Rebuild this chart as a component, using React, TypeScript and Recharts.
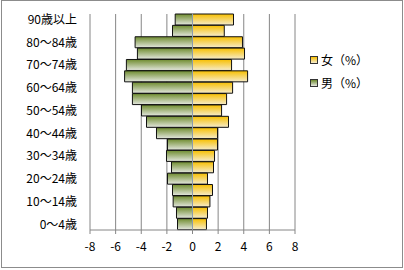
import React from 'react';
import { Bar, BarChart, CartesianGrid, ReferenceLine, XAxis, YAxis } from 'recharts';

const ages = [
  '90歳以上', '85～89歳', '80～84歳', '75～79歳', '70～74歳', '65～69歳', '60～64歳',
  '55～59歳', '50～54歳', '45～49歳', '40～44歳', '35～39歳', '30～34歳', '25～29歳',
  '20～24歳', '15～19歳', '10～14歳', '5～9歳', '0～4歳',
];
// 男 is drawn to the left, so its values are kept negative
const male = [
  -1.35, -1.56, -4.48, -4.3, -5.16, -5.3, -4.69, -4.69, -3.98, -3.59,
  -2.81, -1.95, -2.03, -1.64, -1.95, -1.56, -1.51, -1.25, -1.17,
];
const female = [
  3.2, 2.48, 3.9, 4.06, 3.05, 4.3, 3.13, 2.66, 2.27, 2.81,
  1.95, 1.95, 1.72, 1.64, 1.17, 1.56, 1.36, 1.17, 1.09,
];
const xTicks = [-8, -6, -4, -2, 0, 2, 4, 6, 8];

const data = ages.map((age, i) => ({ age, male: male[i], female: female[i] }));

const FONT = '"Noto Sans CJK JP", sans-serif';
const GRID = '#868686';

const legendItems = [
  { label: '女（%）', top: '#f5bd00', bottom: '#f5ecd0' },
  { label: '男（%）', top: '#6e8b2e', bottom: '#e6e8e0' },
];

// drawn as a plain overlay so it does not eat into the plot area
function PyramidLegend() {
  return (
    <div
      style={{
        position: 'absolute',
        left: 310,
        top: 48,
        fontFamily: FONT,
        fontSize: 12,
        color: '#000',
      }}
    >
      {legendItems.map((item) => (
        <div key={item.label} style={{ display: 'flex', alignItems: 'center', height: 23 }}>
          <span
            style={{
              width: 6,
              height: 6,
              border: '1px solid #333',
              background: `linear-gradient(${item.top}, ${item.bottom})`,
              marginRight: 3,
            }}
          />
          <span>{item.label}</span>
        </div>
      ))}
    </div>
  );
}

export default function App() {
  return (
    <div style={{ position: 'fixed', left: 0, top: 0, width: 404, height: 270, background: '#fff' }}>
      <BarChart
        width={404}
        height={270}
        data={data}
        layout="vertical"
        stackOffset="sign"
        barCategoryGap={0}
        margin={{ top: 14, right: 109, left: 0, bottom: 10 }}
      >
        <defs>
          <linearGradient id="femaleFill" x1="0" y1="0" x2="0" y2="1">
            <stop offset="0%" stopColor="#f7bf00" />
            <stop offset="100%" stopColor="#f6eccc" />
          </linearGradient>
          <linearGradient id="maleFill" x1="0" y1="0" x2="0" y2="1">
            <stop offset="0%" stopColor="#6f8c2f" />
            <stop offset="100%" stopColor="#e4e7df" />
          </linearGradient>
        </defs>
        <CartesianGrid horizontal={false} stroke={GRID} />
        <XAxis
          type="number"
          domain={[-8, 8]}
          ticks={xTicks}
          interval={0}
          height={30}
          stroke={GRID}
          tickSize={4}
          tickMargin={8}
          tick={{ fill: '#000', fontSize: 12, fontFamily: FONT }}
        />
        <YAxis
          type="category"
          dataKey="age"
          width={90}
          interval={1}
          axisLine={false}
          tickLine={false}
          tickMargin={7}
          tick={{ fill: '#000', fontSize: 12, fontFamily: FONT }}
        />
        <Bar dataKey="male" stackId="p" fill="url(#maleFill)" stroke="#111" strokeWidth={1} isAnimationActive={false} />
        <Bar dataKey="female" stackId="p" fill="url(#femaleFill)" stroke="#111" strokeWidth={1} isAnimationActive={false} />
        <ReferenceLine x={0} stroke="#8a9bb0" />
      </BarChart>
      <PyramidLegend />
      <div
        style={{
          position: 'absolute',
          left: 1,
          top: 0,
          width: 402,
          height: 268,
          boxSizing: 'border-box',
          border: '1px solid #8c8c8c',
          pointerEvents: 'none',
        }}
      />
    </div>
  );
}
